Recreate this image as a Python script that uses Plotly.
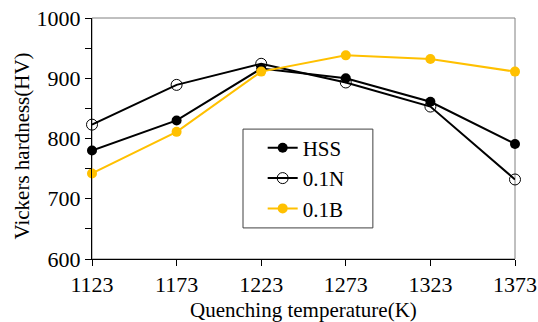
import plotly.graph_objects as go

temps = [1123, 1173, 1223, 1273, 1323, 1373]
hss = [780, 830, 916, 900, 861, 791]
n01 = [823, 889, 924, 893, 853, 732]
b01 = [742, 811, 911, 938, 932, 911]
y_ticks = [600, 650, 700, 750, 800, 850, 900, 950, 1000]
y_labels = ["600", "", "700", "", "800", "", "900", "", "1000"]

FONT = "Liberation Serif"
GOLD = "#FFC000"
f21 = dict(family=FONT, size=21, color="black")
f22 = dict(family=FONT, size=22, color="black")

fig = go.Figure()
fig.add_trace(go.Scatter(x=temps, y=hss, name="HSS", mode="lines+markers",
                         line=dict(color="black", width=2),
                         marker=dict(symbol="circle", size=10, color="black"),
                         cliponaxis=False))
fig.add_trace(go.Scatter(x=temps, y=n01, name="0.1N", mode="lines+markers",
                         line=dict(color="black", width=2),
                         marker=dict(symbol="circle-open", size=11, color="black",
                                     line=dict(width=1)),
                         cliponaxis=False))
fig.add_trace(go.Scatter(x=temps, y=b01, name="0.1B", mode="lines+markers",
                         line=dict(color=GOLD, width=2),
                         marker=dict(symbol="circle", size=10, color=GOLD),
                         cliponaxis=False))

fig.update_layout(
    width=538, height=322,
    margin=dict(l=92, r=23, t=18, b=63, autoexpand=False),
    paper_bgcolor="white", plot_bgcolor="white",
    font=f21,
    showlegend=True,
    legend=dict(x=0.4035, y=0.545, xanchor="left", yanchor="top",
                borderwidth=0, bgcolor="rgba(0,0,0,0)",
                font=f21, itemwidth=30, tracegroupgap=0),
    xaxis=dict(range=[1123, 1373], tickvals=temps, ticktext=[str(t) for t in temps],
               showgrid=False, zeroline=False, showline=True, linecolor="black",
               linewidth=1, ticks="outside", ticklen=6, tickcolor="black",
               tickfont=f22, automargin=False, ticklabeloverflow="allow"),
    yaxis=dict(range=[600, 1000], tickvals=y_ticks, ticktext=y_labels,
               showgrid=False, zeroline=False, showline=True, linecolor="black",
               linewidth=1, ticks="outside", ticklen=6, tickcolor="black",
               tickfont=f22, automargin=False, ticklabeloverflow="allow"),
    annotations=[
        dict(text="Quenching temperature(K)", xref="paper", yref="paper",
             x=0.5, y=-0.212, xanchor="center", yanchor="middle",
             showarrow=False, font=f21),
        dict(text="Vickers hardness(HV)", xref="paper", yref="paper",
             x=-0.1655, y=0.471, xanchor="center", yanchor="middle",
             textangle=-90, showarrow=False, font=f21),
    ],
    shapes=[dict(type="rect", xref="paper", yref="paper", x0=0, y0=0, x1=1, y1=1,
                 line=dict(color="#808080", width=1), layer="below"),
            dict(type="rect", xref="paper", yref="paper", x0=0.357, y0=0.129,
                 x1=0.664, y1=0.539, line=dict(color="#404040", width=1),
                 fillcolor="white", layer="above")],
)

fig.write_html("out.html", config={"displayModeBar": False},
               post_script="document.body.style.margin='0';document.body.style.overflow='hidden';")
